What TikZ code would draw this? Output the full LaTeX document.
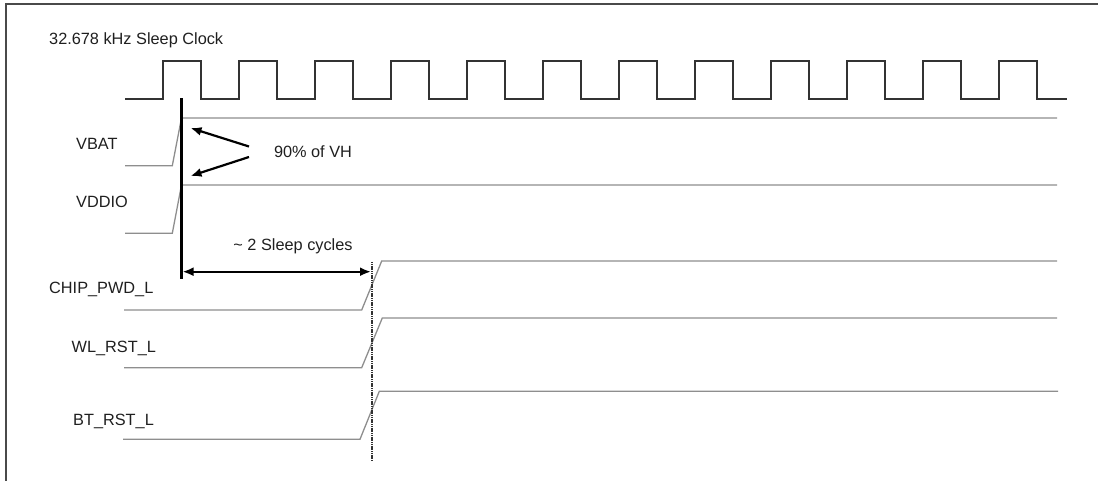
\documentclass[tikz,border=0pt]{standalone}
\usepackage{fontspec}
\setmainfont{Liberation Sans}
\usetikzlibrary{arrows.meta}
\definecolor{sig}{HTML}{8E8E8E}
\definecolor{clk}{HTML}{333333}
\definecolor{frm}{HTML}{4A4A4A}
\tikzset{
  lbl/.style={font=\fontsize{16.3}{18}\selectfont, inner sep=0pt, anchor=west, text=black!88},
  sigline/.style={draw=sig, line width=1.3pt},
  clkline/.style={draw=clk, line width=1.6pt},
  frame/.style={draw=frm, line width=1.5pt},
  marker/.style={draw=black, line width=2.4pt},
  pointer/.style={draw=black, line width=2.2pt, -{Latex[length=11pt,width=9pt]}},
  span/.style={draw=black, line width=2.2pt, {Latex[length=11pt,width=9pt]}-{Latex[length=11pt,width=9pt]}},
  dotline/.style={draw=black!80, line width=2pt, dash pattern=on 1.2pt off 0.6pt}
}
\begin{document}
\begin{tikzpicture}[x=1pt,y=-1pt]
\useasboundingbox (0,0) rectangle (1098,481);
% frame
\draw[frame] (6,481) -- (6,4) -- (1098,4);
% clock
\node[lbl] (clktxt) at (49,40) {32.678 kHz Sleep Clock};
\coordinate (c0) at (125,99);
\draw[clkline] (c0)
  \foreach \k in {0,...,11}{ -- ({163+76*\k},99) -- ({163+76*\k},61) -- ({201+76*\k},61) -- ({201+76*\k},99) }
  -- (1067,99);
% labels
\node[lbl] (vbat) at (76,144) {VBAT};
\node[lbl] (vddio) at (76,202) {VDDIO};
\node[lbl] (chip) at (49,289.5) {CHIP\_PWD\_L};
\node[lbl] (wl) at (71.5,348.5) {WL\_RST\_L};
\node[lbl] (bt) at (73,421) {BT\_RST\_L};
% signals
\draw[sigline] (125,165.7) -- (172.3,165.7) -- (181.5,118) -- (1057,118);
\draw[sigline] (125,233.3) -- (172.3,233.3) -- (181.5,185) -- (1057,185);
\draw[sigline] (124,310) -- (361.7,310) -- (381.7,261) -- (1057,261);
\draw[sigline] (124,367.7) -- (361.7,367.7) -- (382.3,318) -- (1057,318);
\draw[sigline] (123,439.3) -- (360,439.3) -- (379.3,391.3) -- (1058,391.3);
% markers
\coordinate (mtop) at (181.5,98.5);
\coordinate (mbot) at (181.5,279);
\draw[marker] (mtop) -- (mbot);
\coordinate (dtop) at (371.7,262);
\coordinate (dbot) at (371.7,461);
\draw[dotline] (dtop) -- (dbot);
% 90% of VH
\node[font=\fontsize{16.3}{18}\selectfont, inner sep=0pt, text=black!88] (vh) at (313,151.7) {90\% of VH};
\coordinate (p1) at (249,146.5);
\coordinate (p2) at (249,157);
\draw[pointer] (p1) -- (190.5,128);
\draw[pointer] (p2) -- (190.5,176);
% sleep cycles
\node[font=\fontsize{16.3}{18}\selectfont, inner sep=0pt, text=black!88] (cyc) at (293,246.5) {\textasciitilde\ 2 Sleep cycles};
\coordinate (s1) at (182.5,271.7);
\coordinate (s2) at (371,271.7);
\draw[span] (s1) -- (s2);
\end{tikzpicture}
\end{document}
